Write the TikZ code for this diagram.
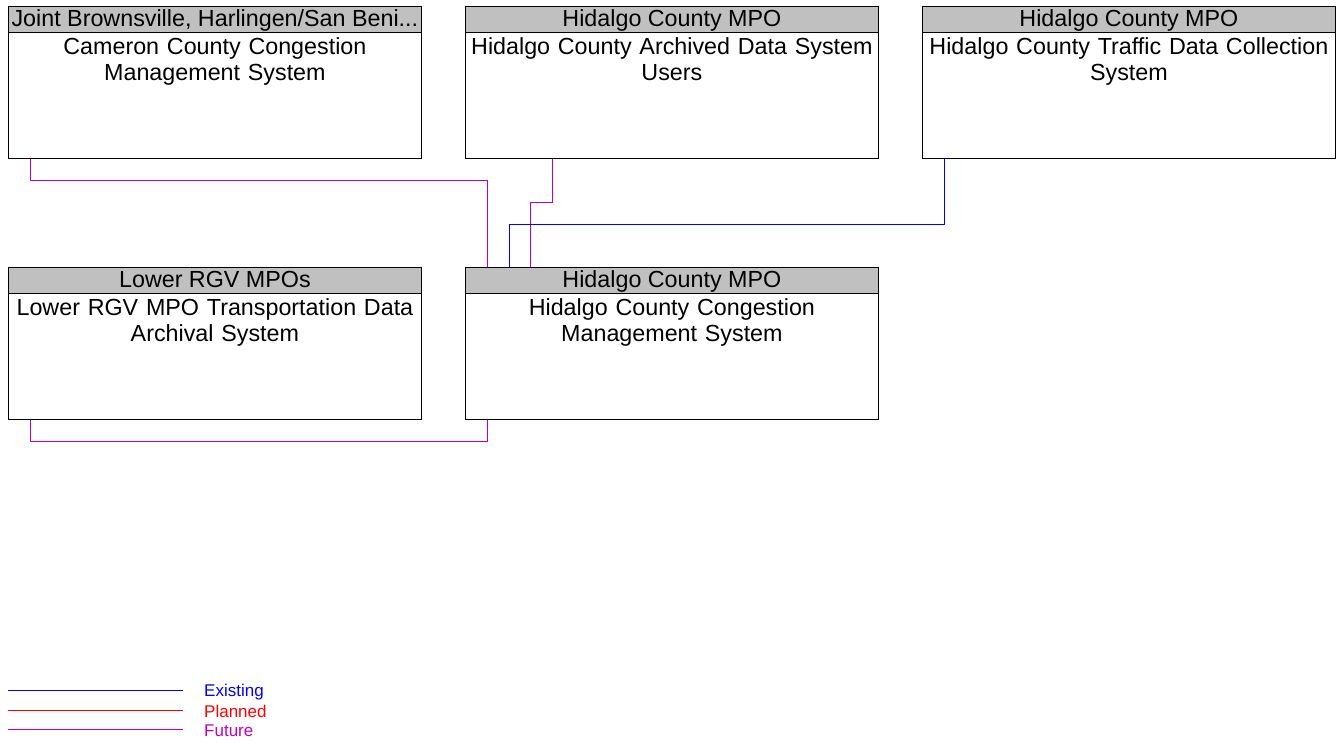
\documentclass[tikz,border=0pt]{standalone}
\usepackage{fontspec}
\setmainfont{Liberation Sans}
\usetikzlibrary{calc}
\definecolor{futurec}{RGB}{192,0,192}
\definecolor{existc}{RGB}{0,0,255}
\definecolor{plannedc}{RGB}{255,0,0}
\definecolor{hdrgray}{RGB}{192,192,192}
\tikzset{
  hdr/.style={draw=black, fill=hdrgray, line width=0.8pt, minimum width=413pt, minimum height=26pt, inner sep=0pt, font=\fontsize{23.3}{26}\selectfont, anchor=north west},
  hdrtext/.style={inner sep=0pt, anchor=base, font=\fontsize{23.3}{26}\selectfont},
  bodybox/.style={draw=black, line width=0.8pt, minimum width=413pt, minimum height=126pt, inner sep=0pt, anchor=north west},
  bodytext/.style={text width=413pt, align=center, inner sep=0pt, anchor=north, font=\fontsize{23.3}{26}\selectfont},
  future/.style={draw=futurec, line width=1pt},
  existing/.style={draw=existc, line width=1pt},
  planned/.style={draw=plannedc, line width=1pt},
  legtext/.style={anchor=west, inner sep=0pt, font=\fontsize{17}{19}\selectfont}
}
\begin{document}
\begin{tikzpicture}[x=1pt,y=-1pt]
\useasboundingbox (0,0) rectangle (1341,743);
% boxes
\node[bodybox] (b1) at (8,32) {};
\node[hdr] (h1) at (8,6) {};
\node[hdrtext] (ht1) at ([yshift=-21pt]h1.north) {Joint Brownsville, Harlingen/San Beni...};
\node[bodytext] (t1) at ([yshift=-5pt]b1.north) {Cameron County Congestion\\Management System};

\node[bodybox] (b2) at (465,32) {};
\node[hdr] (h2) at (465,6) {};
\node[hdrtext] (ht2) at ([yshift=-21pt]h2.north) {Hidalgo County MPO};
\node[bodytext] (t2) at ([yshift=-5pt]b2.north) {Hidalgo County Archived Data System\\Users};

\node[bodybox] (b3) at (922,32) {};
\node[hdr] (h3) at (922,6) {};
\node[hdrtext] (ht3) at ([yshift=-21pt]h3.north) {Hidalgo County MPO};
\node[bodytext] (t3) at ([yshift=-5pt]b3.north) {Hidalgo County Traffic Data Collection\\System};

\node[bodybox] (b4) at (8,293) {};
\node[hdr] (h4) at (8,267) {};
\node[hdrtext] (ht4) at ([yshift=-21pt]h4.north) {Lower RGV MPOs};
\node[bodytext] (t4) at ([yshift=-5pt]b4.north) {Lower RGV MPO Transportation Data\\Archival System};

\node[bodybox] (b5) at (465,293) {};
\node[hdr] (h5) at (465,267) {};
\node[hdrtext] (ht5) at ([yshift=-21pt]h5.north) {Hidalgo County MPO};
\node[bodytext] (t5) at ([yshift=-5pt]b5.north) {Hidalgo County Congestion\\Management System};

% connectors
\draw[future] ([xshift=22pt]b1.south west) -- ++(0,-22pt) -| ([xshift=22pt]h5.north west);
\draw[future] ([xshift=87pt]b2.south west) -- ++(0,-44pt) -| ([xshift=65pt]h5.north west);
\draw[existing] ([xshift=22pt]b3.south west) -- ++(0,-66pt) -| ([xshift=44pt]h5.north west);
\draw[future] ([xshift=22pt]b4.south west) -- ++(0,-22pt) -| ([xshift=22pt]b5.south west);

% legend
\coordinate (l1a) at (8,690); \coordinate (l1b) at (183,690);
\coordinate (l2a) at (8,710); \coordinate (l2b) at (183,710);
\coordinate (l3a) at (8,729); \coordinate (l3b) at (183,729);
\draw[existing] (l1a) -- (l1b);
\draw[planned] (l2a) -- (l2b);
\draw[future] (l3a) -- (l3b);
\node[legtext, text=existc] (e1) at (204,692) {Existing};
\node[legtext, text=plannedc] (e2) at (204,711) {Planned};
\node[legtext, text=futurec] (e3) at (204,731) {Future};
\end{tikzpicture}
\end{document}
